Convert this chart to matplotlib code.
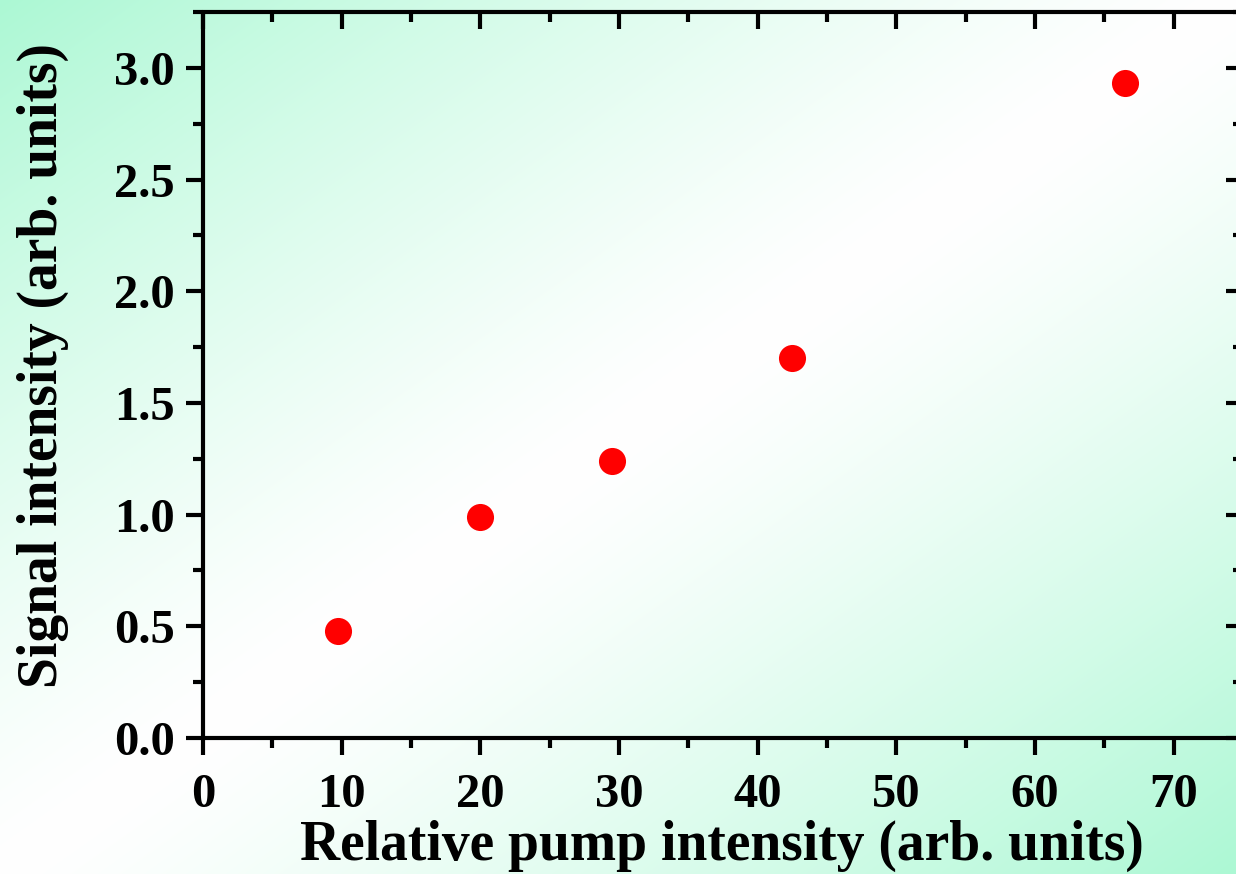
import numpy as np
import matplotlib
matplotlib.use("Agg")
import matplotlib.pyplot as plt
from matplotlib.ticker import MultipleLocator

# Measured signal vs. relative pump intensity
pump = [9.7, 20.0, 29.5, 42.5, 66.5]
signal = [0.48, 0.99, 1.24, 1.70, 2.93]

x_ticks = [0, 10, 20, 30, 40, 50, 60, 70]
y_ticks = [0.0, 0.5, 1.0, 1.5, 2.0, 2.5, 3.0]

plt.rcParams["font.family"] = ["Liberation Serif", "DejaVu Serif"]
plt.rcParams["font.weight"] = "bold"

W, H = 1236, 874
fig = plt.figure(figsize=(W / 100, H / 100), dpi=100)

# diagonal mint-to-white-to-mint background
yy, xx = np.mgrid[0:H, 0:W]
u = xx / W + yy / H
d = np.clip(np.abs(u - 1.0), 0, 1) ** 1.3
green = np.array([172, 248, 212]) / 255.0
white = np.array([1.0, 1.0, 1.0])
img = white[None, None, :] * (1 - d[..., None]) + green[None, None, :] * d[..., None]
bg = fig.add_axes([0, 0, 1, 1], zorder=0)
bg.imshow(img, aspect="auto", extent=[0, 1, 0, 1], origin="upper")
bg.axis("off")

left = 203 / W
bottom = 1 - 738 / H
width = (1243 - 203) / W
height = (738 - 12) / H
ax = fig.add_axes([left, bottom, width, height], zorder=1)
ax.patch.set_alpha(0)

ax.plot(pump, signal, "o", color="#ff0000", markersize=19.5, markeredgewidth=0, zorder=3)

ax.set_xlim(0, 75)
ax.set_ylim(0, 3.25)
ax.set_xticks(x_ticks)
ax.set_xticklabels([str(v) for v in x_ticks])
ax.set_yticks(y_ticks)
ax.set_yticklabels([f"{v:.1f}" for v in y_ticks])
ax.xaxis.set_minor_locator(MultipleLocator(5))
ax.yaxis.set_minor_locator(MultipleLocator(0.25))

for s in ax.spines.values():
    s.set_linewidth(3.0)
    s.set_capstyle("round")

ax.tick_params(axis="x", which="both", bottom=True, top=False, direction="out")
ax.tick_params(axis="y", which="both", left=True, right=False, direction="out")
ax.tick_params(which="major", length=12.5, width=3.0, labelsize=35, pad=13)
ax.tick_params(which="minor", length=7, width=3.0)
ax.tick_params(axis="y", which="major", pad=8)

# inward ticks on top and right
ax_top = ax.secondary_xaxis("top")
ax_top.set_xticks(x_ticks)
ax_top.xaxis.set_minor_locator(MultipleLocator(5))
ax_top.tick_params(which="both", direction="in", labeltop=False, width=3.0)
ax_top.tick_params(which="major", length=12.5)
ax_top.tick_params(which="minor", length=7)
ax_top.spines["top"].set_visible(False)
ax_right = ax.secondary_yaxis("right")
ax_right.set_yticks(y_ticks)
ax_right.yaxis.set_minor_locator(MultipleLocator(0.25))
ax_right.tick_params(which="both", direction="in", labelright=False, width=3.0)
ax_right.tick_params(which="major", length=12.5)
ax_right.tick_params(which="minor", length=7)
ax_right.spines["right"].set_visible(False)

for lab in ax.get_xticklabels() + ax.get_yticklabels():
    lab.set_fontweight("bold")

fig.text(722 / W, 1 - 860 / H, "Relative pump intensity (arb. units)",
         fontsize=40, fontweight="bold", ha="center", va="baseline")
fig.text(43 / W, 1 - 365 / H, "Signal intensity (arb. units)",
         fontsize=40, fontweight="bold", rotation=90, ha="center", va="center")

fig.savefig("out.png", dpi=100)
